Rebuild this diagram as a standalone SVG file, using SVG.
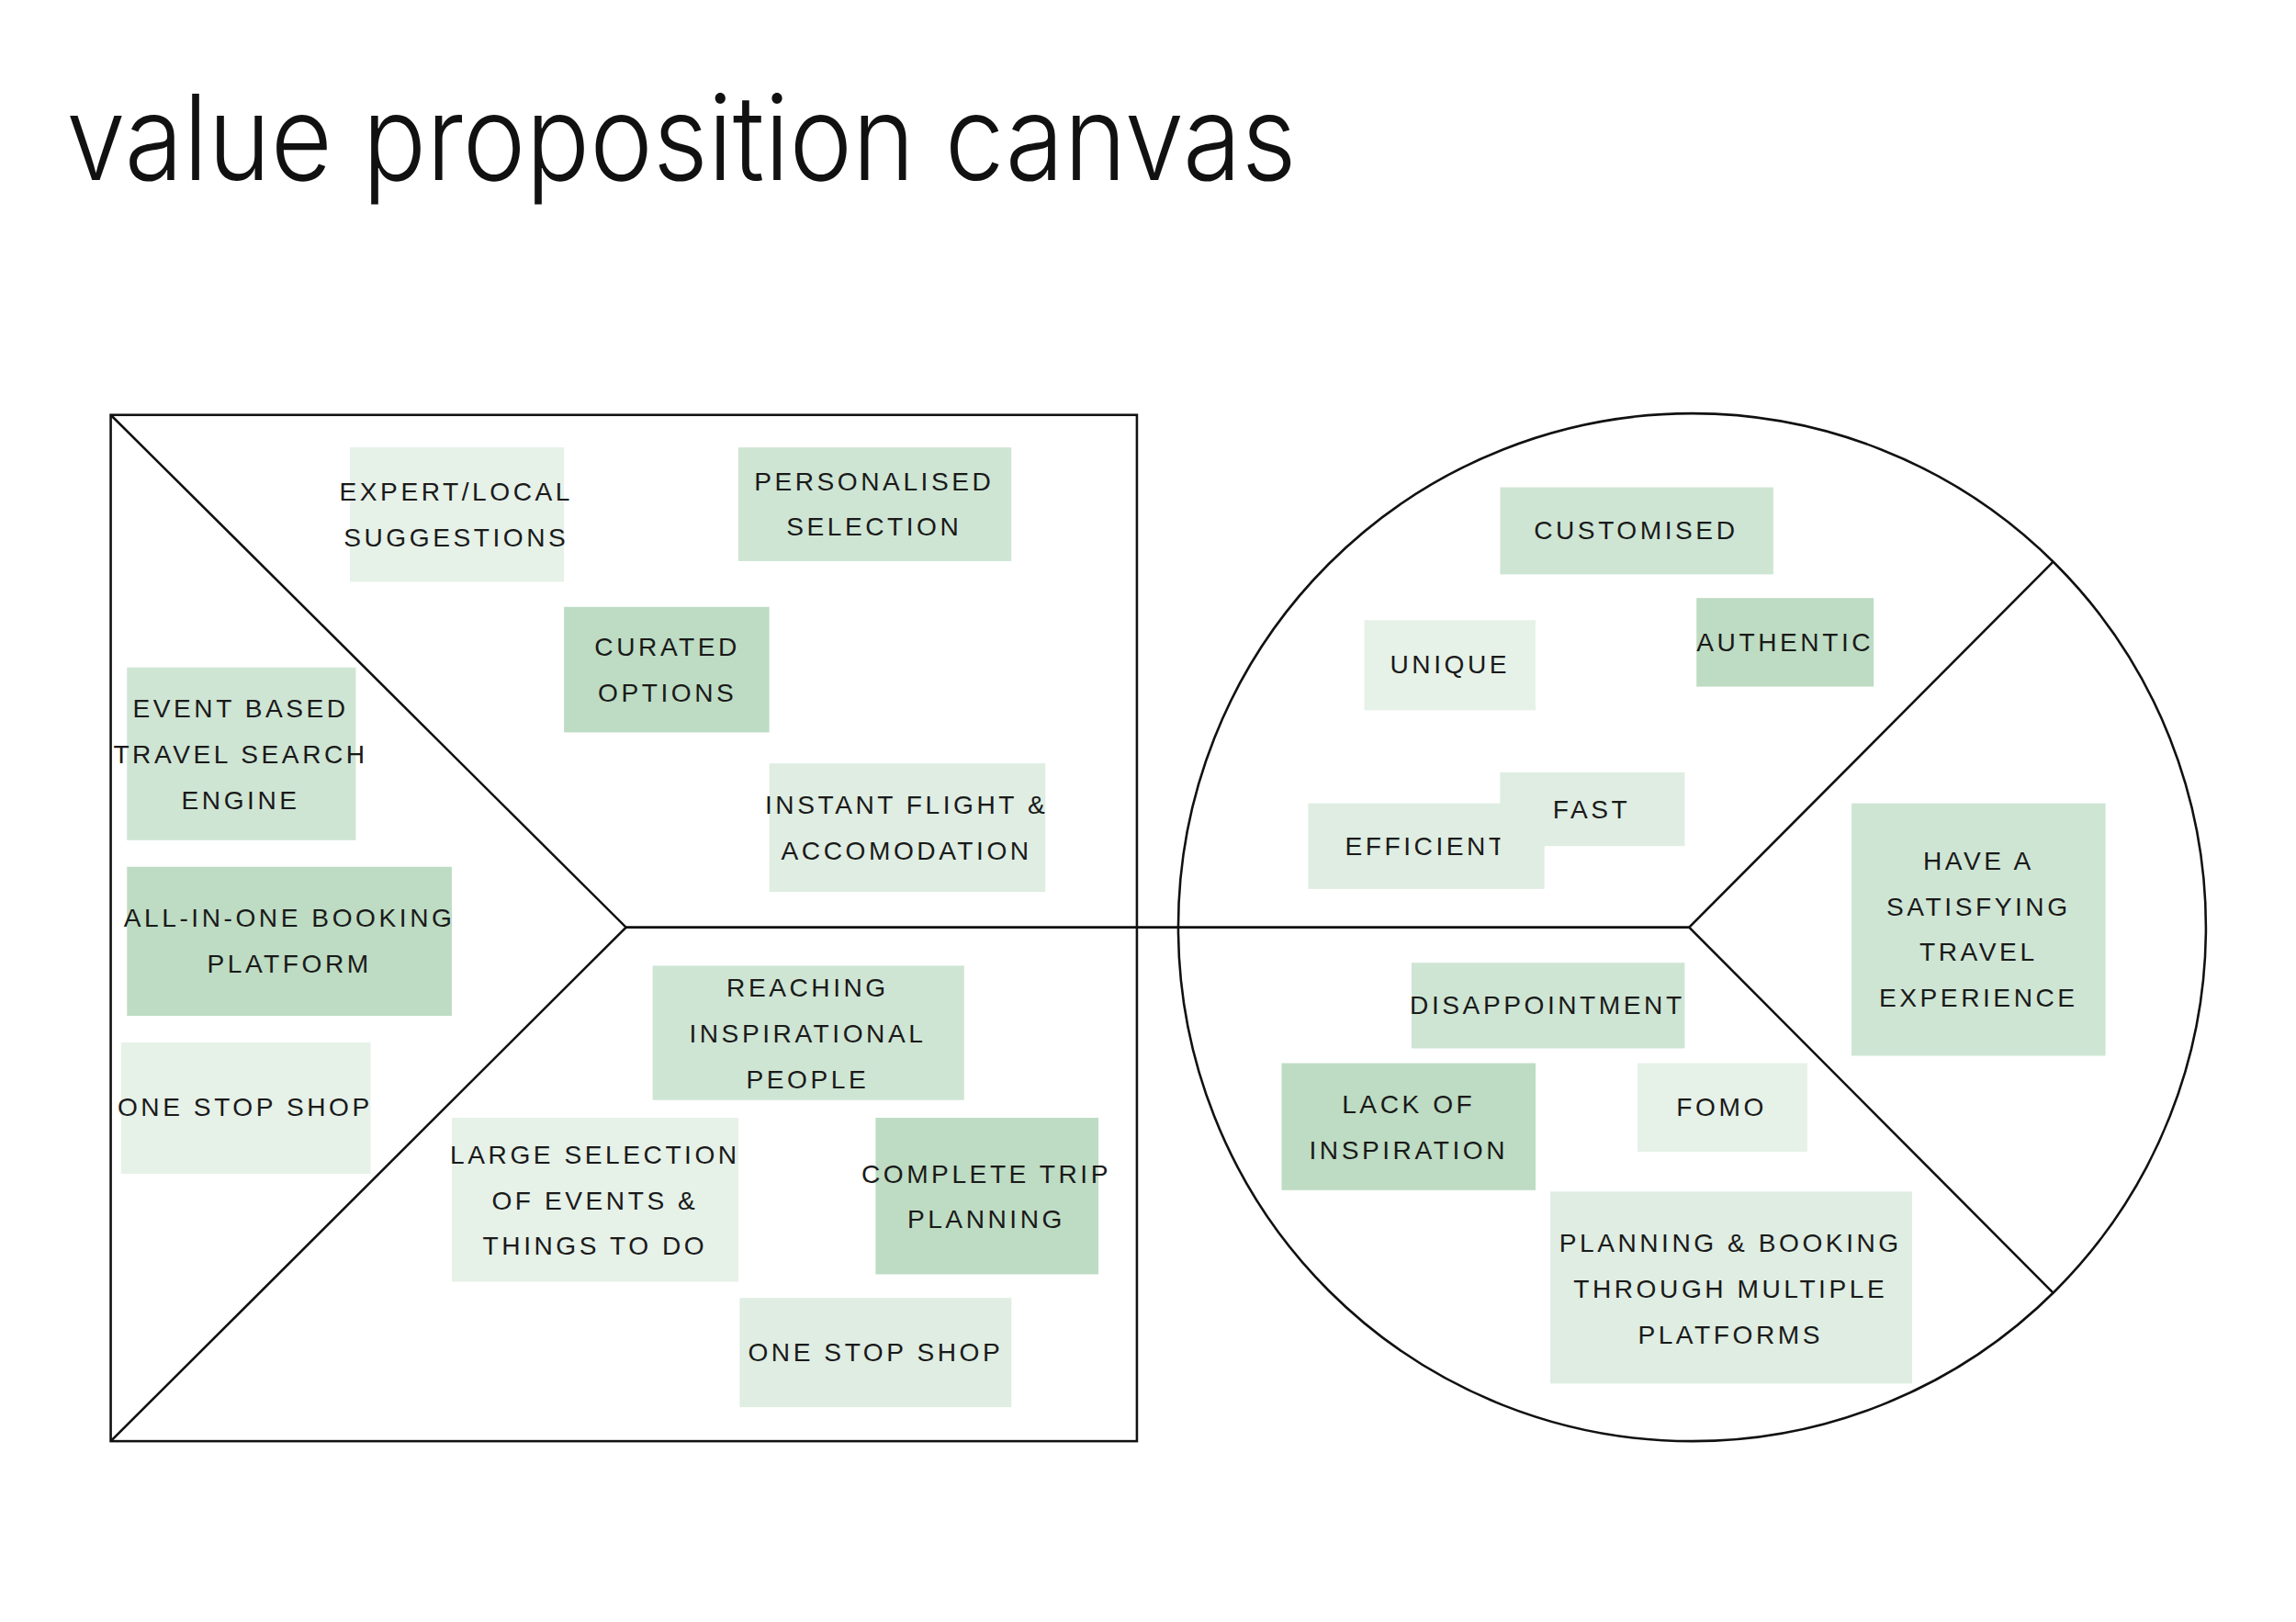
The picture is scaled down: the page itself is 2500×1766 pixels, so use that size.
<svg xmlns="http://www.w3.org/2000/svg" width="2500" height="1766" viewBox="0 0 2500 1766">
<style>
.t{font-family:"Liberation Sans",Arial,sans-serif;font-size:17.5px;letter-spacing:2.2px;fill:#1a1a1a;text-anchor:middle;dominant-baseline:central}
.a{fill:#e6f1e8}.b{fill:#dfede2}.c{fill:#cfe5d4}.d{fill:#bedcc3}
.ln{stroke:#111;stroke-width:1.6;fill:none}
</style>
<rect width="2500" height="1766" fill="#fff"/>
<g transform="scale(1.6077)">
<text x="45" y="122" font-family="Inter,'Open Sans',sans-serif" font-weight="300" font-size="80" fill="#111" textLength="833" lengthAdjust="spacingAndGlyphs">value proposition canvas</text>
<g id="connectors">
<rect x="75" y="281" width="695" height="695" class="ln"/>
<path class="ln" d="M75 281L424 628L75 976M424 628H1144L1391 380M1144 628L1391 876"/>
<circle cx="1146" cy="628" r="348" class="ln"/>
</g>
<g id="n1"><rect class="a" x="237" y="303" width="145" height="91"/><text class="t" x="309" y="333">EXPERT/LOCAL</text><text class="t" x="309" y="364">SUGGESTIONS</text></g>
<g id="n2"><rect class="c" x="500" y="303" width="185" height="77"/><text class="t" x="592" y="326">PERSONALISED</text><text class="t" x="592" y="357">SELECTION</text></g>
<g id="n3"><rect class="d" x="382" y="411" width="139" height="85"/><text class="t" x="452" y="438">CURATED</text><text class="t" x="452" y="469">OPTIONS</text></g>
<g id="n4"><rect class="b" x="521" y="517" width="187" height="87"/><text class="t" x="614" y="545">INSTANT FLIGHT &amp;</text><text class="t" x="614" y="576">ACCOMODATION</text></g>
<g id="n5"><rect class="c" x="86" y="452" width="155" height="117"/><text class="t" x="163" y="480">EVENT BASED</text><text class="t" x="163" y="511">TRAVEL SEARCH</text><text class="t" x="163" y="542">ENGINE</text></g>
<g id="n6"><rect class="d" x="86" y="587" width="220" height="101"/><text class="t" x="196" y="622">ALL-IN-ONE BOOKING</text><text class="t" x="196" y="653">PLATFORM</text></g>
<g id="n7"><rect class="a" x="82" y="706" width="169" height="89"/><text class="t" x="166" y="750">ONE STOP SHOP</text></g>
<g id="n8"><rect class="c" x="442" y="654" width="211" height="91"/><text class="t" x="547" y="669">REACHING</text><text class="t" x="547" y="700">INSPIRATIONAL</text><text class="t" x="547" y="731">PEOPLE</text></g>
<g id="n9"><rect class="a" x="306" y="757" width="194" height="111"/><text class="t" x="403" y="782">LARGE SELECTION</text><text class="t" x="403" y="813">OF EVENTS &amp;</text><text class="t" x="403" y="844">THINGS TO DO</text></g>
<g id="n10"><rect class="d" x="593" y="757" width="151" height="106"/><text class="t" x="668" y="795">COMPLETE TRIP</text><text class="t" x="668" y="826">PLANNING</text></g>
<g id="n11"><rect class="b" x="501" y="879" width="184" height="74"/><text class="t" x="593" y="916">ONE STOP SHOP</text></g>
<g id="n12"><rect class="c" x="1016" y="330" width="185" height="59"/><text class="t" x="1108" y="359">CUSTOMISED</text></g>
<g id="n13"><rect class="a" x="924" y="420" width="116" height="61"/><text class="t" x="982" y="450">UNIQUE</text></g>
<g id="n14"><rect class="d" x="1149" y="405" width="120" height="60"/><text class="t" x="1209" y="435">AUTHENTIC</text></g>
<g id="n15"><rect class="b" x="886" y="544" width="160" height="58"/><text class="t" x="966" y="573">EFFICIENT</text></g>
<g id="n16"><rect class="b" x="1016" y="523" width="125" height="50"/><text class="t" x="1078" y="548">FAST</text></g>
<g id="n17"><rect class="c" x="1254" y="544" width="172" height="171"/><text class="t" x="1340" y="583">HAVE A</text><text class="t" x="1340" y="614">SATISFYING</text><text class="t" x="1340" y="645">TRAVEL</text><text class="t" x="1340" y="676">EXPERIENCE</text></g>
<g id="n18"><rect class="c" x="956" y="652" width="185" height="58"/><text class="t" x="1048" y="681">DISAPPOINTMENT</text></g>
<g id="n19"><rect class="d" x="868" y="720" width="172" height="86"/><text class="t" x="954" y="748">LACK OF</text><text class="t" x="954" y="779">INSPIRATION</text></g>
<g id="n20"><rect class="a" x="1109" y="720" width="115" height="60"/><text class="t" x="1166" y="750">FOMO</text></g>
<g id="n21"><rect class="b" x="1050" y="807" width="245" height="130"/><text class="t" x="1172" y="842">PLANNING &amp; BOOKING</text><text class="t" x="1172" y="873">THROUGH MULTIPLE</text><text class="t" x="1172" y="904">PLATFORMS</text></g>
</g>
</svg>
